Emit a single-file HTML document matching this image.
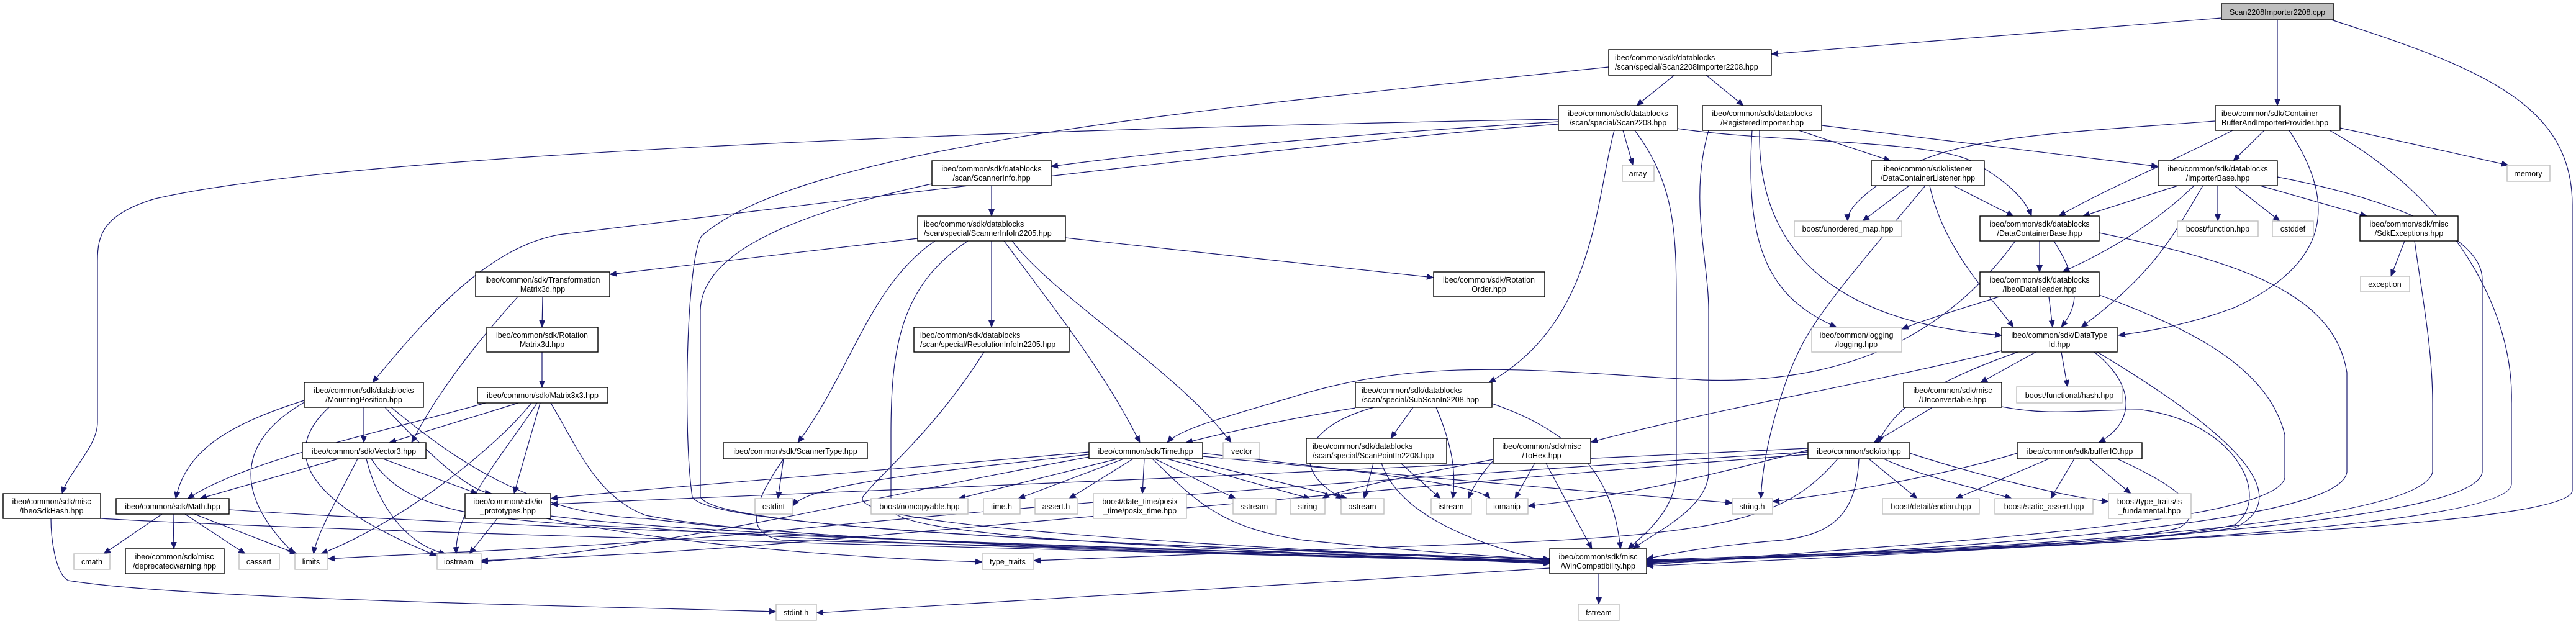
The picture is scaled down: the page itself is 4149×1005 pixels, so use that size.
<!DOCTYPE html>
<html><head><meta charset="utf-8"><style>
html,body{margin:0;padding:0;background:#fff;}
svg{display:block;}
text{font-family:"Liberation Sans",sans-serif;font-size:12.5px;fill:#000;}
.n{fill:#fff;stroke:#000;stroke-width:1.4;}
.g{fill:#fff;stroke:#bfbfbf;stroke-width:1.4;}
.c{fill:#bfbfbf;stroke:#000;stroke-width:1.4;}
.e path{fill:none;stroke:#191970;stroke-width:1.2;marker-end:url(#a);}
</style></head><body>
<svg width="4149" height="1005" viewBox="0 0 4149 1005" xmlns="http://www.w3.org/2000/svg">
<defs><marker id="a" markerWidth="12" markerHeight="10" refX="11" refY="5" orient="auto" markerUnits="userSpaceOnUse"><path d="M0,0 L12,5 L0,10 z" fill="#191970"/></marker></defs>
<g class="e">
<path d="M3578,29 L2853,87"/>
<path d="M3668,32 L3668,170"/>
<path d="M3755,32 C4000,110 4143,170 4143,330 L4143,790 C4143,850 3300,880 2652,902"/>
<path d="M2697,121 L2636,170"/>
<path d="M2748,121 L2808,170"/>
<path d="M2591,108 C2000,170 1300,230 1130,380 C1105,420 1100,700 1115,800 C1140,860 2100,885 2496,902"/>
<path d="M2510,192 C1800,205 600,240 250,320 C165,345 157,380 157,420 L157,680 C157,720 110,760 100,795"/>
<path d="M2510,200 C2150,225 1300,330 900,378 C780,400 680,520 600,616"/>
<path d="M2510,196 C2200,215 1900,240 1693,268"/>
<path d="M2614,210 L2630,266"/>
<path d="M2600,210 C2570,320 2570,520 2398,616"/>
<path d="M2633,210 C2700,300 2700,380 2700,500 L2700,760 C2700,820 2650,860 2622,884"/>
<path d="M2702,207 C2850,230 3120,225 3180,262 C3230,290 3262,320 3272,348"/>
<path d="M2934,202 L3476,268"/>
<path d="M2897,210 L3045,259"/>
<path d="M2822,210 C2810,400 2850,480 2958,527"/>
<path d="M2752,210 C2720,320 2752,420 2752,500 L2752,760 C2752,820 2660,860 2630,884"/>
<path d="M2834,210 C2830,400 2950,520 3224,540"/>
<path d="M3596,210 C3500,260 3400,300 3316,348"/>
<path d="M3647,210 L3597,259"/>
<path d="M3687,210 C3760,320 3760,420 3600,495 C3520,525 3450,535 3412,540"/>
<path d="M3769,206 L4040,266"/>
<path d="M3752,210 C3950,320 4050,500 4045,650 L4045,780 C4040,850 3300,885 2652,905"/>
<path d="M3568,195 C3300,215 3150,220 3050,280 C2990,320 2975,340 2976,356"/>
<path d="M3508,299 L3355,348"/>
<path d="M3534,299 C3450,380 3360,420 3322,438"/>
<path d="M3548,299 C3500,380 3470,440 3352,527"/>
<path d="M3572,299 L3572,356"/>
<path d="M3599,299 L3672,356"/>
<path d="M3640,299 L3812,348"/>
<path d="M3668,285 C3850,320 3998,380 3998,450 L3998,760 C3990,850 3200,885 2652,906"/>
<path d="M3146,299 L3243,348"/>
<path d="M3075,299 L3000,356"/>
<path d="M3108,299 C3130,400 3200,470 3243,527"/>
<path d="M3101,299 C3000,420 2930,500 2900,560 C2870,620 2840,720 2836,803"/>
<path d="M3285,388 L3285,438"/>
<path d="M3308,388 C3360,470 3340,500 3320,527"/>
<path d="M3381,375 C3600,420 3760,470 3780,600 L3780,760 C3770,850 3100,885 2652,908"/>
<path d="M3246,388 C3150,520 3000,620 2743,612 C2500,600 2300,570 2080,640 C1980,670 1900,690 1880,713"/>
<path d="M3300,478 L3306,527"/>
<path d="M3220,478 C3150,500 3100,515 3063,530"/>
<path d="M3381,475 C3500,520 3650,580 3680,700 L3680,770 C3660,850 3000,880 2652,910"/>
<path d="M3279,567 L3190,616"/>
<path d="M3320,567 L3330,623"/>
<path d="M3373,567 C3440,620 3440,680 3380,713"/>
<path d="M3250,567 C3100,620 3050,660 3025,713"/>
<path d="M3224,565 C3000,620 2800,650 2562,712"/>
<path d="M3378,567 C3600,700 3700,800 3600,850 C3400,880 3000,895 2652,912"/>
<path d="M3873,388 L3851,445"/>
<path d="M3889,388 C3900,470 3918,560 3918,650 L3918,760 C3900,850 3200,885 2652,904"/>
<path d="M1597,299 L1597,348"/>
<path d="M1501,296 C1300,340 1130,400 1128,500 L1128,800 C1150,860 2000,880 2496,905"/>
<path d="M1478,384 L982,442"/>
<path d="M1716,383 L2309,447"/>
<path d="M1506,388 C1400,460 1370,600 1285,713"/>
<path d="M1559,388 C1450,460 1435,560 1435,700 L1435,820 C1450,870 2000,885 2496,908"/>
<path d="M1597,388 L1597,527"/>
<path d="M1617,388 C1700,500 1780,600 1836,713"/>
<path d="M1630,388 C1700,480 1900,600 1983,713"/>
<path d="M874,478 L873,527"/>
<path d="M834,478 C760,560 700,640 663,713"/>
<path d="M873,567 L873,624"/>
<path d="M782,649 C600,700 400,740 302,803"/>
<path d="M835,649 L627,713"/>
<path d="M856,649 C800,720 650,840 517,892"/>
<path d="M865,649 C820,720 730,820 735,892"/>
<path d="M870,649 L828,795"/>
<path d="M887,649 C930,720 960,800 1040,830 C1300,880 2100,890 2496,900"/>
<path d="M586,656 L586,713"/>
<path d="M490,645 C380,680 300,720 283,803"/>
<path d="M490,648 C400,700 360,780 474,892"/>
<path d="M530,656 C460,720 470,800 703,895"/>
<path d="M620,656 C680,720 750,790 792,795"/>
<path d="M630,656 C720,730 850,830 1040,835 C1400,880 2100,895 2496,903"/>
<path d="M545,739 L322,803"/>
<path d="M576,739 C545,800 510,860 505,892"/>
<path d="M590,739 C610,820 660,880 718,892"/>
<path d="M617,739 L769,795"/>
<path d="M598,739 C650,820 760,840 1040,850 C1400,880 2100,895 2496,904"/>
<path d="M261,828 L167,892"/>
<path d="M279,828 L280,884"/>
<path d="M298,828 L395,892"/>
<path d="M313,828 L478,892"/>
<path d="M369,821 C800,850 1800,880 2496,906"/>
<path d="M162,835 C500,855 1500,880 2496,906"/>
<path d="M82,835 C82,870 90,925 110,935 C300,965 900,975 1250,985"/>
<path d="M801,835 L756,892"/>
<path d="M887,831 C1200,870 2000,885 2496,906"/>
<path d="M880,835 C1100,880 1400,900 1582,905"/>
<path d="M1585,567 C1500,700 1420,760 1390,800 C1360,850 2000,880 2496,906"/>
<path d="M1262,739 L1253,803"/>
<path d="M1262,739 C1220,800 1190,860 1260,870 C1700,880 2200,895 2496,906"/>
<path d="M1754,732 C1500,760 1300,780 1277,815"/>
<path d="M1800,739 L1544,803"/>
<path d="M1810,739 L1640,803"/>
<path d="M1825,739 L1722,803"/>
<path d="M1843,739 L1840,795"/>
<path d="M1860,739 L1990,803"/>
<path d="M1880,739 L2110,803"/>
<path d="M1905,739 L2170,803"/>
<path d="M1856,739 C1920,800 1960,850 2100,870 C2300,890 2450,900 2496,900"/>
<path d="M1754,728 C1400,760 1000,790 887,803"/>
<path d="M1754,736 C1400,800 1100,880 775,905"/>
<path d="M1937,735 C2300,770 2600,795 2790,810"/>
<path d="M1937,730 C2200,760 2380,780 2400,803"/>
<path d="M2276,656 L2240,706"/>
<path d="M2313,656 C2340,720 2345,760 2340,803"/>
<path d="M2183,657 C2100,670 2000,690 1910,713"/>
<path d="M2213,656 C2090,690 2080,760 2163,803"/>
<path d="M2403,650 C2550,700 2600,780 2610,884"/>
<path d="M2212,746 L2197,803"/>
<path d="M2256,746 L2320,803"/>
<path d="M2225,746 C2250,820 2350,870 2496,905"/>
<path d="M2472,746 L2440,803"/>
<path d="M2490,746 L2564,884"/>
<path d="M2405,740 C2300,760 2150,790 2130,803"/>
<path d="M2405,742 C2380,770 2370,790 2365,803"/>
<path d="M2912,725 C2700,780 2600,800 2461,815"/>
<path d="M3010,739 L3088,803"/>
<path d="M3034,739 C3100,770 3200,790 3240,803"/>
<path d="M3076,730 C3200,770 3330,800 3396,808"/>
<path d="M2994,739 C2990,820 2960,860 2870,870 C2750,880 2700,890 2652,900"/>
<path d="M2912,728 C2400,760 1800,800 1200,860 C900,885 700,890 528,900"/>
<path d="M2912,732 C2400,770 1700,840 1200,880 C1000,895 850,900 775,903"/>
<path d="M2960,739 C2880,830 2800,860 2400,875 C2000,890 1800,898 1665,903"/>
<path d="M2912,722 C2300,750 1500,790 887,812"/>
<path d="M3111,657 L3018,713"/>
<path d="M3224,655 C3300,670 3350,660 3450,660 C3600,680 3660,800 3600,845 C3450,880 3000,895 2652,903"/>
<path d="M3300,739 L3150,803"/>
<path d="M3341,739 L3303,803"/>
<path d="M3365,739 L3432,795"/>
<path d="M3410,739 C3500,780 3560,820 3510,850 C3400,880 3000,895 2652,903"/>
<path d="M3249,730 C3150,760 3000,790 2855,808"/>
<path d="M2575,924 L2575,973"/>
<path d="M2496,915 C2100,940 1700,965 1315,987"/>
</g>
<g>
<rect class="c" x="3578" y="6" width="181" height="26"/><text x="3668" y="24" text-anchor="middle">Scan2208Importer2208.cpp</text>
<rect class="n" x="2591" y="80" width="262" height="41"/><text x="2601" y="97">ibeo/common/sdk/datablocks</text><text x="2601" y="112">/scan/special/Scan2208Importer2208.hpp</text>
<rect class="n" x="3568" y="170" width="201" height="40"/><text x="3578" y="187">ibeo/common/sdk/Container</text><text x="3578" y="202">BufferAndImporterProvider.hpp</text>
<rect class="n" x="2510" y="170" width="192" height="40"/><text x="2606" y="187" text-anchor="middle">ibeo/common/sdk/datablocks</text><text x="2606" y="202" text-anchor="middle">/scan/special/Scan2208.hpp</text>
<rect class="n" x="2742" y="170" width="192" height="40"/><text x="2838" y="187" text-anchor="middle">ibeo/common/sdk/datablocks</text><text x="2838" y="202" text-anchor="middle">/RegisteredImporter.hpp</text>
<rect class="n" x="3014" y="259" width="182" height="40"/><text x="3105" y="276" text-anchor="middle">ibeo/common/sdk/listener</text><text x="3105" y="291" text-anchor="middle">/DataContainerListener.hpp</text>
<rect class="n" x="3476" y="259" width="192" height="40"/><text x="3572" y="276" text-anchor="middle">ibeo/common/sdk/datablocks</text><text x="3572" y="291" text-anchor="middle">/ImporterBase.hpp</text>
<rect class="g" x="4038" y="266" width="69" height="26"/><text x="4072" y="284" text-anchor="middle">memory</text>
<rect class="g" x="2613" y="266" width="51" height="26"/><text x="2638" y="284" text-anchor="middle">array</text>
<rect class="n" x="1501" y="259" width="192" height="40"/><text x="1597" y="276" text-anchor="middle">ibeo/common/sdk/datablocks</text><text x="1597" y="291" text-anchor="middle">/scan/ScannerInfo.hpp</text>
<rect class="n" x="1478" y="348" width="238" height="40"/><text x="1488" y="365">ibeo/common/sdk/datablocks</text><text x="1488" y="380">/scan/special/ScannerInfoIn2205.hpp</text>
<rect class="g" x="2890" y="356" width="173" height="25"/><text x="2976" y="373" text-anchor="middle">boost/unordered_map.hpp</text>
<rect class="n" x="3189" y="348" width="192" height="40"/><text x="3285" y="365" text-anchor="middle">ibeo/common/sdk/datablocks</text><text x="3285" y="380" text-anchor="middle">/DataContainerBase.hpp</text>
<rect class="g" x="3507" y="356" width="130" height="25"/><text x="3572" y="373" text-anchor="middle">boost/function.hpp</text>
<rect class="g" x="3660" y="356" width="66" height="25"/><text x="3693" y="373" text-anchor="middle">cstddef</text>
<rect class="n" x="3801" y="348" width="158" height="40"/><text x="3880" y="365" text-anchor="middle">ibeo/common/sdk/misc</text><text x="3880" y="380" text-anchor="middle">/SdkExceptions.hpp</text>
<rect class="n" x="766" y="438" width="216" height="40"/><text x="874" y="455" text-anchor="middle">ibeo/common/sdk/Transformation</text><text x="874" y="470" text-anchor="middle">Matrix3d.hpp</text>
<rect class="n" x="2309" y="438" width="179" height="40"/><text x="2398" y="455" text-anchor="middle">ibeo/common/sdk/Rotation</text><text x="2398" y="470" text-anchor="middle">Order.hpp</text>
<rect class="n" x="3189" y="438" width="192" height="40"/><text x="3285" y="455" text-anchor="middle">ibeo/common/sdk/datablocks</text><text x="3285" y="470" text-anchor="middle">/IbeoDataHeader.hpp</text>
<rect class="g" x="3802" y="445" width="79" height="25"/><text x="3841" y="462" text-anchor="middle">exception</text>
<rect class="n" x="784" y="527" width="179" height="40"/><text x="873" y="544" text-anchor="middle">ibeo/common/sdk/Rotation</text><text x="873" y="559" text-anchor="middle">Matrix3d.hpp</text>
<rect class="n" x="1472" y="527" width="250" height="40"/><text x="1482" y="544">ibeo/common/sdk/datablocks</text><text x="1482" y="559">/scan/special/ResolutionInfoIn2205.hpp</text>
<rect class="g" x="2918" y="527" width="145" height="40"/><text x="2990" y="544" text-anchor="middle">ibeo/common/logging</text><text x="2990" y="559" text-anchor="middle">/logging.hpp</text>
<rect class="n" x="3224" y="527" width="186" height="40"/><text x="3317" y="544" text-anchor="middle">ibeo/common/sdk/DataType</text><text x="3317" y="559" text-anchor="middle">Id.hpp</text>
<rect class="n" x="490" y="616" width="192" height="40"/><text x="586" y="633" text-anchor="middle">ibeo/common/sdk/datablocks</text><text x="586" y="648" text-anchor="middle">/MountingPosition.hpp</text>
<rect class="n" x="769" y="624" width="210" height="25"/><text x="874" y="641" text-anchor="middle">ibeo/common/sdk/Matrix3x3.hpp</text>
<rect class="n" x="2183" y="616" width="220" height="40"/><text x="2193" y="633">ibeo/common/sdk/datablocks</text><text x="2193" y="648">/scan/special/SubScanIn2208.hpp</text>
<rect class="n" x="3066" y="616" width="158" height="40"/><text x="3145" y="633" text-anchor="middle">ibeo/common/sdk/misc</text><text x="3145" y="648" text-anchor="middle">/Unconvertable.hpp</text>
<rect class="g" x="3248" y="623" width="170" height="26"/><text x="3333" y="641" text-anchor="middle">boost/functional/hash.hpp</text>
<rect class="n" x="487" y="713" width="199" height="26"/><text x="586" y="731" text-anchor="middle">ibeo/common/sdk/Vector3.hpp</text>
<rect class="n" x="1165" y="713" width="232" height="26"/><text x="1281" y="731" text-anchor="middle">ibeo/common/sdk/ScannerType.hpp</text>
<rect class="n" x="1754" y="713" width="183" height="26"/><text x="1845" y="731" text-anchor="middle">ibeo/common/sdk/Time.hpp</text>
<rect class="g" x="1970" y="713" width="59" height="26"/><text x="2000" y="731" text-anchor="middle">vector</text>
<rect class="n" x="2104" y="706" width="226" height="40"/><text x="2114" y="723">ibeo/common/sdk/datablocks</text><text x="2114" y="738">/scan/special/ScanPointIn2208.hpp</text>
<rect class="n" x="2405" y="706" width="157" height="40"/><text x="2483" y="723" text-anchor="middle">ibeo/common/sdk/misc</text><text x="2483" y="738" text-anchor="middle">/ToHex.hpp</text>
<rect class="n" x="2912" y="713" width="164" height="26"/><text x="2994" y="731" text-anchor="middle">ibeo/common/sdk/io.hpp</text>
<rect class="n" x="3249" y="713" width="201" height="26"/><text x="3350" y="731" text-anchor="middle">ibeo/common/sdk/bufferIO.hpp</text>
<rect class="n" x="5" y="795" width="157" height="40"/><text x="83" y="812" text-anchor="middle">ibeo/common/sdk/misc</text><text x="83" y="827" text-anchor="middle">/IbeoSdkHash.hpp</text>
<rect class="n" x="187" y="803" width="182" height="25"/><text x="278" y="820" text-anchor="middle">ibeo/common/sdk/Math.hpp</text>
<rect class="n" x="749" y="795" width="138" height="40"/><text x="818" y="812" text-anchor="middle">ibeo/common/sdk/io</text><text x="818" y="827" text-anchor="middle">_prototypes.hpp</text>
<rect class="g" x="1216" y="803" width="61" height="25"/><text x="1246" y="820" text-anchor="middle">cstdint</text>
<rect class="g" x="1403" y="803" width="156" height="25"/><text x="1481" y="820" text-anchor="middle">boost/noncopyable.hpp</text>
<rect class="g" x="1584" y="803" width="59" height="25"/><text x="1613" y="820" text-anchor="middle">time.h</text>
<rect class="g" x="1667" y="803" width="69" height="25"/><text x="1701" y="820" text-anchor="middle">assert.h</text>
<rect class="g" x="1761" y="795" width="150" height="40"/><text x="1836" y="812" text-anchor="middle">boost/date_time/posix</text><text x="1836" y="827" text-anchor="middle">_time/posix_time.hpp</text>
<rect class="g" x="1986" y="803" width="69" height="25"/><text x="2020" y="820" text-anchor="middle">sstream</text>
<rect class="g" x="2078" y="803" width="56" height="25"/><text x="2106" y="820" text-anchor="middle">string</text>
<rect class="g" x="2160" y="803" width="69" height="25"/><text x="2194" y="820" text-anchor="middle">ostream</text>
<rect class="g" x="2305" y="803" width="65" height="25"/><text x="2337" y="820" text-anchor="middle">istream</text>
<rect class="g" x="2394" y="803" width="67" height="25"/><text x="2427" y="820" text-anchor="middle">iomanip</text>
<rect class="g" x="2790" y="803" width="65" height="25"/><text x="2822" y="820" text-anchor="middle">string.h</text>
<rect class="g" x="3032" y="803" width="156" height="25"/><text x="3110" y="820" text-anchor="middle">boost/detail/endian.hpp</text>
<rect class="g" x="3213" y="803" width="158" height="25"/><text x="3292" y="820" text-anchor="middle">boost/static_assert.hpp</text>
<rect class="g" x="3396" y="795" width="133" height="40"/><text x="3462" y="812" text-anchor="middle">boost/type_traits/is</text><text x="3462" y="827" text-anchor="middle">_fundamental.hpp</text>
<rect class="g" x="119" y="892" width="58" height="25"/><text x="148" y="909" text-anchor="middle">cmath</text>
<rect class="n" x="202" y="884" width="159" height="40"/><text x="281" y="901" text-anchor="middle">ibeo/common/sdk/misc</text><text x="281" y="916" text-anchor="middle">/deprecatedwarning.hpp</text>
<rect class="g" x="385" y="892" width="65" height="25"/><text x="417" y="909" text-anchor="middle">cassert</text>
<rect class="g" x="475" y="892" width="53" height="25"/><text x="501" y="909" text-anchor="middle">limits</text>
<rect class="g" x="704" y="892" width="71" height="25"/><text x="739" y="909" text-anchor="middle">iostream</text>
<rect class="n" x="2496" y="884" width="156" height="40"/><text x="2574" y="901" text-anchor="middle">ibeo/common/sdk/misc</text><text x="2574" y="916" text-anchor="middle">/WinCompatibility.hpp</text>
<rect class="g" x="1582" y="892" width="83" height="25"/><text x="1623" y="909" text-anchor="middle">type_traits</text>
<rect class="g" x="1250" y="973" width="65" height="26"/><text x="1282" y="991" text-anchor="middle">stdint.h</text>
<rect class="g" x="2542" y="973" width="66" height="26"/><text x="2575" y="991" text-anchor="middle">fstream</text>
</g>
</svg>
</body></html>
